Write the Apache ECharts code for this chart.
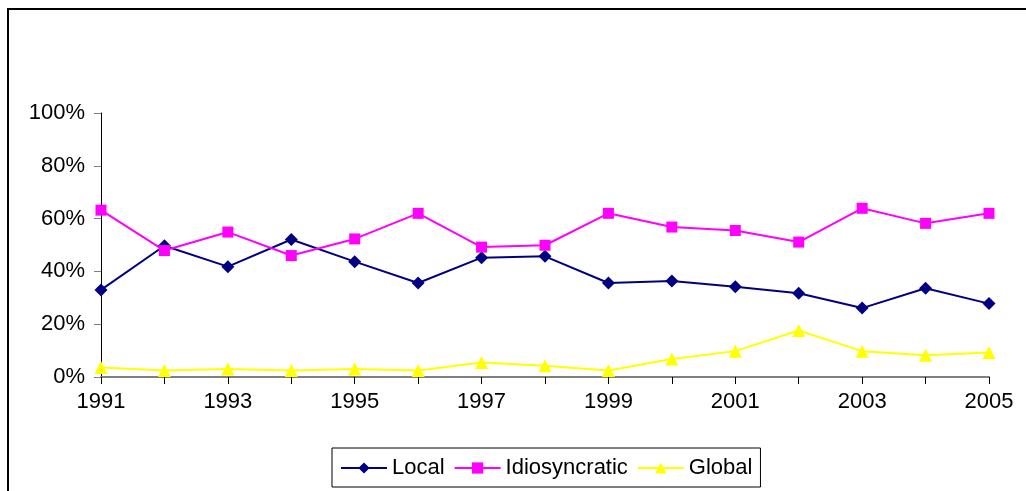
<!DOCTYPE html>
<html>
<head>
<meta charset="utf-8">
<script src="https://cdn.jsdelivr.net/npm/echarts@6/dist/echarts.min.js"></script>
<style>
  html, body {margin: 0; padding: 0; background: #fff;}
  #chart {width: 1026px; height: 491px;}
</style>
</head>
<body>
<div id="chart"></div>
<script>
const years = ['1991', '1992', '1993', '1994', '1995', '1996', '1997', '1998',
  '1999', '2000', '2001', '2002', '2003', '2004', '2005']
const local = [33.0, 49.7, 41.8, 52.1, 43.7, 35.6, 45.2, 45.7, 35.6, 36.4, 34.2, 31.7, 26.1, 33.6, 27.8]
const idiosyncratic = [63.2, 47.9, 54.9, 46.0, 52.3, 62.0, 49.2, 49.9, 62.0, 56.8, 55.5, 51.1, 63.9, 58.2, 62.0]
const global = [3.6, 2.5, 3.0, 2.5, 3.0, 2.5, 5.5, 4.3, 2.5, 6.8, 9.8, 17.6, 9.8, 8.2, 9.3]

const font = 'Liberation Sans, Arial, sans-serif'
const chart = echarts.init(document.getElementById('chart'))

const line = (name, data, color, symbol, size) => ({
  name,
  type: 'line',
  data,
  symbol,
  symbolSize: size,
  lineStyle: {color, width: 2},
  itemStyle: {color},
  animation: false
})

chart.setOption({
  backgroundColor: '#fff',
  textStyle: {fontFamily: font},
  graphic: [{
    type: 'rect',
    shape: {x: 8, y: 9, width: 1200, height: 700},
    style: {fill: 'none', stroke: '#000', lineWidth: 2},
    silent: true
  }],
  grid: {left: 101, right: 37, top: 113, bottom: 114},
  legend: {
    left: 332,
    top: 448,
    padding: [9, 8, 8, 8],
    itemGap: 9,
    itemWidth: 46,
    itemHeight: 14,
    borderColor: '#000',
    borderWidth: 1,
    textStyle: {fontSize: 22, color: '#000', fontFamily: font},
    data: ['Local', 'Idiosyncratic', 'Global']
  },
  xAxis: {
    type: 'category',
    data: years,
    boundaryGap: false,
    axisLine: {lineStyle: {color: '#808080', width: 2}},
    axisTick: {show: true, interval: 0, length: 7, lineStyle: {color: '#000'}},
    axisLabel: {interval: 1, color: '#000', fontSize: 22, margin: 14}
  },
  yAxis: {
    type: 'value',
    min: 0,
    max: 100,
    interval: 20,
    splitLine: {show: false},
    axisLine: {show: true, lineStyle: {color: '#000', width: 1}},
    axisTick: {show: true, length: 7, lineStyle: {color: '#808080'}},
    axisLabel: {formatter: '{value}%', color: '#000', fontSize: 22, margin: 16}
  },
  series: [
    line('Local', local, '#000080', 'diamond', 13),
    line('Idiosyncratic', idiosyncratic, '#ff00ff', 'rect', 11),
    line('Global', global, '#ffff00', 'triangle', 13)
  ]
})
</script>
</body>
</html>
